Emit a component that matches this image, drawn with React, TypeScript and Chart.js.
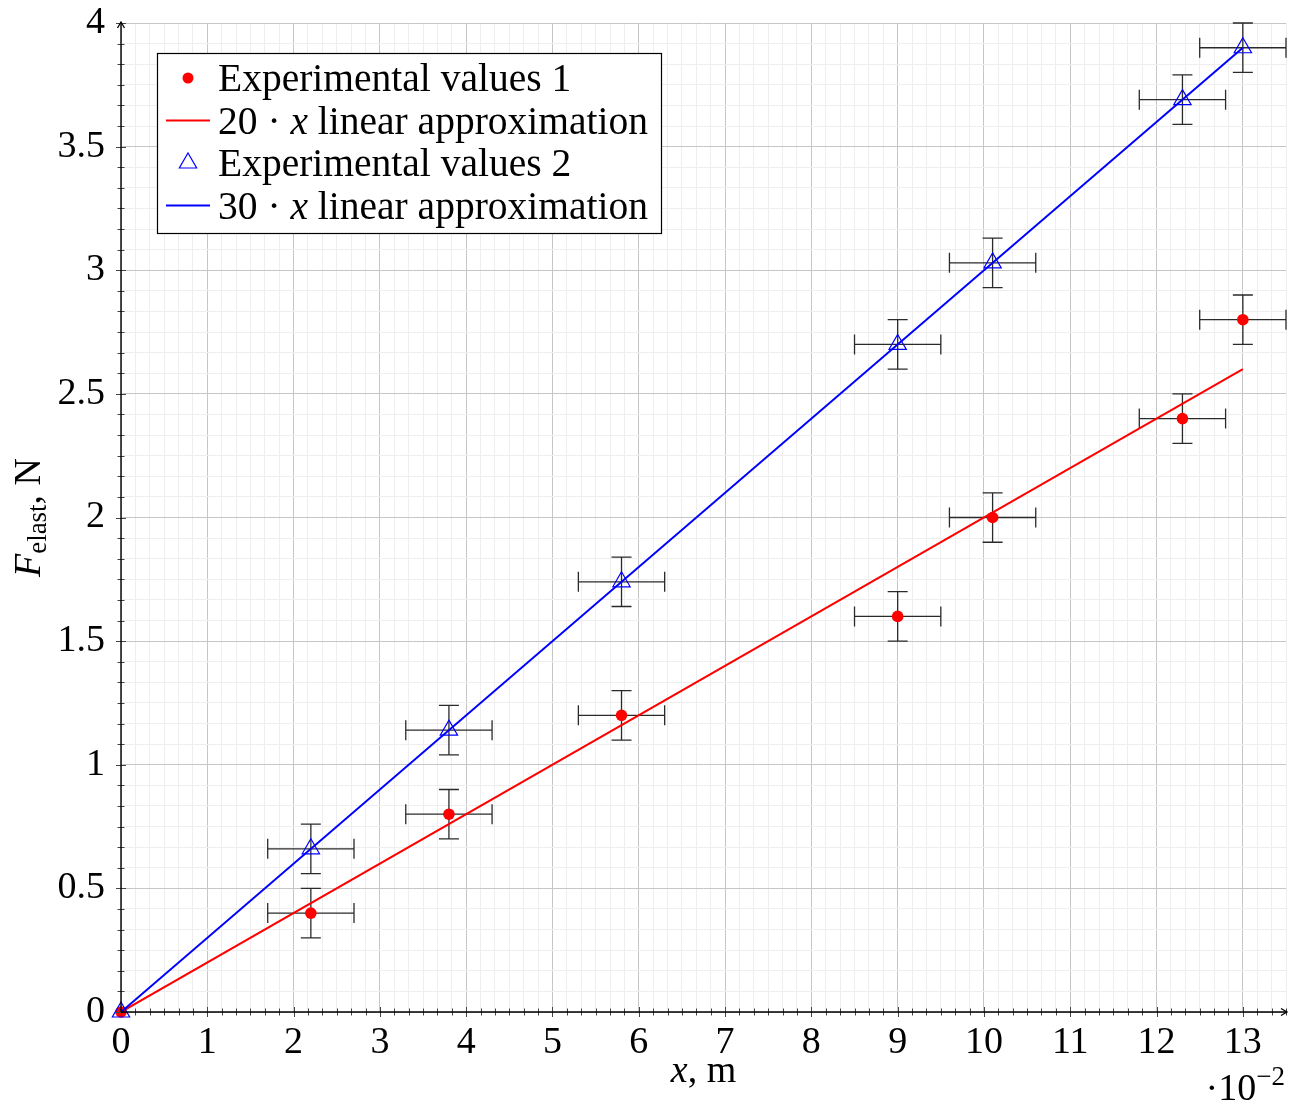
import React, { useEffect, useRef } from 'react';
import { Chart, registerables } from 'chart.js';

Chart.register(...registerables);

// ---- data ----
const exp1X = [0, 2.2, 3.8, 5.8, 9, 10.1, 12.3, 13];
const exp1Y = [0, 0.4, 0.8, 1.2, 1.6, 2.0, 2.4, 2.8];
const exp2X = [0, 2.2, 3.8, 5.8, 9, 10.1, 12.3, 13];
const exp2Y = [0, 0.66, 1.14, 1.74, 2.7, 3.03, 3.69, 3.9];
const errX = [0, 0.5, 0.5, 0.5, 0.5, 0.5, 0.5, 0.5];
const errY = [0, 0.1, 0.1, 0.1, 0.1, 0.1, 0.1, 0.1];
const fitX = [0, 13];
const fit1Y = [0, 2.6];
const fit2Y = [0, 3.9];
const xMajorStep = 1;
const yMajorStep = 0.5;
const minorDivisions = 6;
const xMin = 0;
const xMax = 13.5;
const yMin = 0;
const yMax = 4;
const legendLabels = [
  'Experimental values 1',
  '20 · x linear approximation',
  'Experimental values 2',
  '30 · x linear approximation',
];

const FONT = '"Liberation Serif", "Times New Roman", serif';

function buildTicks(min: number, max: number, major: number): number[] {
  const step = major / minorDivisions;
  const n = Math.round((max - min) / step);
  const out: number[] = [];
  for (let i = 0; i <= n; i++) out.push(min + i * step);
  return out;
}
const xTickValues = buildTicks(xMin, xMax, xMajorStep);
const yTickValues = buildTicks(yMin, yMax, yMajorStep);

const isMajor = (v: number, step: number) => Math.abs(v / step - Math.round(v / step)) < 1e-6;

function pts(xs: number[], ys: number[]) {
  return xs.map((x, i) => ({ x, y: ys[i] }));
}

function drawTokens(ctx: CanvasRenderingContext2D, text: string, x: number, y: number, size: number) {
  const tokens = text.split(' ');
  let cx = x;
  tokens.forEach((tok, i) => {
    const italic = tok === 'x';
    ctx.font = `${italic ? 'italic ' : ''}${size}px ${FONT}`;
    ctx.fillText(tok, cx, y);
    cx += ctx.measureText(tok).width;
    if (i < tokens.length - 1) {
      ctx.font = `${size}px ${FONT}`;
      cx += ctx.measureText(' ').width;
    }
  });
}

const decorPlugin = {
  id: 'decor',
  beforeDatasetsDraw(chart: any) {
    const ctx: CanvasRenderingContext2D = chart.ctx;
    const xs = chart.scales.x;
    const ys = chart.scales.y;
    ctx.save();
    ctx.strokeStyle = '#2a2a2a';
    ctx.lineWidth = 1.3;
    const cap = 10;
    chart.data.datasets.forEach((ds: any) => {
      if (!ds.errX) return;
      ds.data.forEach((p: any, i: number) => {
        const ex = ds.errX[i];
        const ey = ds.errY[i];
        if (!ex && !ey) return;
        const px = xs.getPixelForValue(p.x);
        const py = ys.getPixelForValue(p.y);
        const x0 = xs.getPixelForValue(p.x - ex);
        const x1 = xs.getPixelForValue(p.x + ex);
        const y0 = ys.getPixelForValue(p.y - ey);
        const y1 = ys.getPixelForValue(p.y + ey);
        ctx.beginPath();
        ctx.moveTo(x0, py); ctx.lineTo(x1, py);
        ctx.moveTo(x0, py - cap); ctx.lineTo(x0, py + cap);
        ctx.moveTo(x1, py - cap); ctx.lineTo(x1, py + cap);
        ctx.moveTo(px, y0); ctx.lineTo(px, y1);
        ctx.moveTo(px - cap, y0); ctx.lineTo(px + cap, y0);
        ctx.moveTo(px - cap, y1); ctx.lineTo(px + cap, y1);
        ctx.stroke();
      });
    });
    ctx.restore();
  },
  afterDatasetsDraw(chart: any) {
    const ctx: CanvasRenderingContext2D = chart.ctx;
    const xs = chart.scales.x;
    const ys = chart.scales.y;
    const a = chart.chartArea;
    const ox = xs.getPixelForValue(xMin);
    const oy = ys.getPixelForValue(yMin);
    ctx.save();
    // tick marks
    ctx.strokeStyle = '#444';
    ctx.lineWidth = 1;
    ctx.beginPath();
    xTickValues.forEach((v) => {
      const px = Math.round(xs.getPixelForValue(v)) + 0.5;
      const len = isMajor(v, xMajorStep) ? 5 : 3.5;
      ctx.moveTo(px, oy - len); ctx.lineTo(px, oy + len);
    });
    yTickValues.forEach((v) => {
      const py = Math.round(ys.getPixelForValue(v)) + 0.5;
      const len = isMajor(v, yMajorStep) ? 5 : 3.5;
      ctx.moveTo(ox - len, py); ctx.lineTo(ox + len, py);
    });
    ctx.stroke();
    // axis lines
    ctx.strokeStyle = '#000';
    ctx.lineWidth = 1.4;
    ctx.beginPath();
    ctx.moveTo(ox, oy); ctx.lineTo(a.right + 1, oy);
    ctx.moveTo(ox, oy); ctx.lineTo(ox, a.top - 1);
    ctx.stroke();
    // arrows
    ctx.lineWidth = 1.3;
    ctx.beginPath();
    ctx.moveTo(a.right - 5, oy - 3.5); ctx.lineTo(a.right + 1, oy); ctx.lineTo(a.right - 5, oy + 3.5);
    ctx.moveTo(ox - 3.5, a.top + 5); ctx.lineTo(ox, a.top - 1); ctx.lineTo(ox + 3.5, a.top + 5);
    ctx.stroke();
    ctx.restore();
  },
  afterDraw(chart: any) {
    const ctx: CanvasRenderingContext2D = chart.ctx;
    const a = chart.chartArea;
    ctx.save();
    ctx.fillStyle = '#000';
    ctx.textBaseline = 'alphabetic';
    // x title
    {
      const cx = (a.left + a.right) / 2;
      ctx.font = `italic 38px ${FONT}`;
      const w1 = ctx.measureText('x').width;
      ctx.font = `38px ${FONT}`;
      const w2 = ctx.measureText(', m').width;
      const sx = cx - (w1 + w2) / 2;
      const by = a.bottom + 70;
      ctx.font = `italic 38px ${FONT}`;
      ctx.fillText('x', sx, by);
      ctx.font = `38px ${FONT}`;
      ctx.fillText(', m', sx + w1, by);
    }
    // x scale multiplier
    {
      const by = a.bottom + 88;
      ctx.font = `27px ${FONT}`;
      const wExp = ctx.measureText('−2').width;
      ctx.font = `38px ${FONT}`;
      const wBase = ctx.measureText('10').width;
      const wDot = ctx.measureText('·').width;
      const right = a.right - 1;
      ctx.font = `27px ${FONT}`;
      ctx.fillText('−2', right - wExp, by - 15);
      ctx.font = `38px ${FONT}`;
      ctx.fillText('10', right - wExp - wBase, by);
      ctx.fillText('·', right - wExp - wBase - wDot, by);
    }
    // y title
    {
      const cy = (a.top + a.bottom) / 2;
      ctx.translate(40, cy);
      ctx.rotate(-Math.PI / 2);
      ctx.font = `italic 38px ${FONT}`;
      const wF = ctx.measureText('F').width;
      ctx.font = `27px ${FONT}`;
      const wS = ctx.measureText('elast').width;
      ctx.font = `38px ${FONT}`;
      const wN = ctx.measureText(', N').width;
      let sx = -(wF + wS + wN) / 2;
      ctx.font = `italic 38px ${FONT}`;
      ctx.fillText('F', sx, 0);
      sx += wF;
      ctx.font = `27px ${FONT}`;
      ctx.fillText('elast', sx, 6);
      sx += wS;
      ctx.font = `38px ${FONT}`;
      ctx.fillText(', N', sx, 0);
    }
    ctx.restore();
    // legend
    ctx.save();
    const lx = a.left + 36;
    const ly = a.top + 30;
    const lw = 504;
    const lh = 180;
    ctx.fillStyle = '#fff';
    ctx.fillRect(lx, ly, lw, lh);
    ctx.strokeStyle = '#000';
    ctx.lineWidth = 1.2;
    ctx.strokeRect(lx + 0.5, ly + 0.5, lw, lh);
    const rowH = 42.5;
    const symX = lx + 31;
    const textX = lx + 61;
    chart.data.datasets.forEach((ds: any, i: number) => {
      const cy = ly + 25 + i * rowH;
      if (ds.showLine) {
        ctx.strokeStyle = ds.borderColor;
        ctx.lineWidth = 2;
        ctx.beginPath();
        ctx.moveTo(symX - 22, cy);
        ctx.lineTo(symX + 22, cy);
        ctx.stroke();
      } else if (ds.pointStyle === 'triangle') {
        const r = 10;
        ctx.strokeStyle = ds.pointBorderColor;
        ctx.lineWidth = 1.2;
        ctx.beginPath();
        for (let k = 0; k < 3; k++) {
          const ang = (k * 2 * Math.PI) / 3;
          const px = symX + Math.sin(ang) * r;
          const py = cy - Math.cos(ang) * r;
          if (k === 0) ctx.moveTo(px, py); else ctx.lineTo(px, py);
        }
        ctx.closePath();
        ctx.stroke();
      } else {
        ctx.fillStyle = ds.pointBackgroundColor;
        ctx.beginPath();
        ctx.arc(symX, cy, 5.5, 0, Math.PI * 2);
        ctx.fill();
      }
      ctx.fillStyle = '#000';
      ctx.textBaseline = 'alphabetic';
      drawTokens(ctx, ds.label, textX, cy + 13, 39.5);
    });
    ctx.restore();
  },
};

export default function App() {
  const canvasRef = useRef<HTMLCanvasElement | null>(null);

  useEffect(() => {
    if (!canvasRef.current) return;
    const chart = new Chart(canvasRef.current, {
      type: 'scatter',
      data: {
        datasets: [
          {
            label: legendLabels[0],
            data: pts(exp1X, exp1Y),
            showLine: false,
            pointStyle: 'circle',
            pointRadius: 5.8,
            pointBorderWidth: 0,
            pointBackgroundColor: '#ff0000',
            pointBorderColor: '#ff0000',
            order: 3,
            clip: false,
            errX,
            errY,
          } as any,
          {
            label: legendLabels[1],
            data: pts(fitX, fit1Y),
            showLine: true,
            borderColor: '#ff0000',
            borderWidth: 2,
            pointRadius: 0,
            order: 2,
          } as any,
          {
            label: legendLabels[2],
            data: pts(exp2X, exp2Y),
            showLine: false,
            pointStyle: 'triangle',
            pointRadius: 10,
            pointBorderWidth: 1.2,
            pointBackgroundColor: 'rgba(0,0,0,0)',
            pointBorderColor: '#0000ff',
            order: 1,
            clip: false,
            errX,
            errY,
          } as any,
          {
            label: legendLabels[3],
            data: pts(fitX, fit2Y),
            showLine: true,
            borderColor: '#0000ff',
            borderWidth: 2,
            pointRadius: 0,
            order: 0,
          } as any,
        ],
      },
      options: {
        animation: false,
        responsive: true,
        maintainAspectRatio: false,
        events: [],
        layout: { padding: { top: 23, right: 12, left: 0, bottom: 0 } },
        plugins: { legend: { display: false }, tooltip: { enabled: false } },
        scales: {
          x: {
            type: 'linear',
            min: xMin,
            max: xMax,
            afterBuildTicks: (s: any) => {
              s.ticks = xTickValues.map((v) => ({ value: v }));
            },
            afterFit: (s: any) => {
              s.height = 92;
              s.paddingLeft = 0;
              s.paddingRight = 0;
            },
            grid: {
              drawTicks: false,
              lineWidth: 1,
              color: (c: any) => (isMajor(c.tick?.value ?? 0, xMajorStep) ? '#c6c6c6' : '#eeeeee'),
            },
            border: { display: false },
            ticks: {
              autoSkip: false,
              maxRotation: 0,
              minRotation: 0,
              padding: 8,
              color: '#000',
              font: { family: FONT, size: 38 },
              callback: (v: any) => (isMajor(Number(v), xMajorStep) ? String(Math.round(Number(v))) : ''),
            },
          },
          y: {
            type: 'linear',
            min: yMin,
            max: yMax,
            afterBuildTicks: (s: any) => {
              s.ticks = yTickValues.map((v) => ({ value: v }));
            },
            afterFit: (s: any) => {
              s.width = 121;
              s.paddingTop = 0;
              s.paddingBottom = 0;
            },
            grid: {
              drawTicks: false,
              lineWidth: 1,
              color: (c: any) => (isMajor(c.tick?.value ?? 0, yMajorStep) ? '#c6c6c6' : '#eeeeee'),
            },
            border: { display: false },
            ticks: {
              autoSkip: false,
              padding: 16,
              color: '#000',
              font: { family: FONT, size: 38 },
              callback: (v: any) =>
                isMajor(Number(v), yMajorStep) ? String(Math.round(Number(v) * 2) / 2) : '',
            },
          },
        },
      },
      plugins: [decorPlugin],
    });
    return () => chart.destroy();
  }, []);

  return (
    <div style={{ position: 'absolute', left: 0, top: 0, width: 1298, height: 1104, background: '#fff' }}>
      <canvas ref={canvasRef} />
    </div>
  );
}
